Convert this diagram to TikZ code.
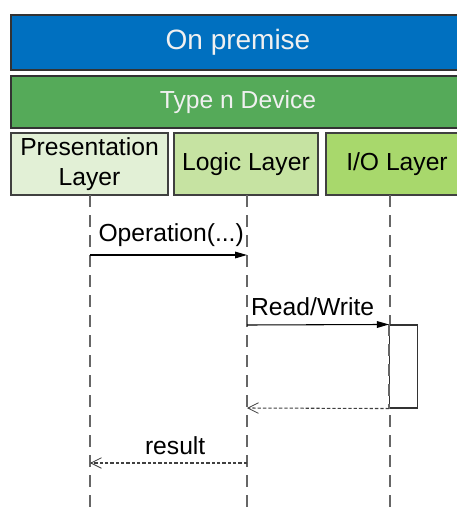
\documentclass[tikz,border=0pt]{standalone}
\usepackage{fontspec}
\setmainfont{Liberation Sans}
\usetikzlibrary{arrows.meta}
\definecolor{premblue}{HTML}{0070C0}
\definecolor{devgreen}{HTML}{55AA59}
\definecolor{presgreen}{HTML}{E2F0D6}
\definecolor{logicgreen}{HTML}{C6E3A2}
\definecolor{iogreen}{HTML}{A8D86C}
\tikzset{
  band/.style={draw=black!80,line width=0.9pt,inner sep=0pt,text=white!94!black,font=\fontsize{18.5}{22}\selectfont},
  layer/.style={draw=black!75,line width=0.8pt,inner sep=0pt,minimum height=46.5pt,align=center,font=\fontsize{18.5}{22.5}\selectfont},
  lifeline/.style={draw=black!60,line width=1.2pt,dash pattern=on 9pt off 6pt},
  call/.style={draw=black,line width=0.8pt,-{Triangle[length=9pt,width=5pt]}},
  reply/.style={draw=black!75,line width=0.8pt,dash pattern=on 2.5pt off 1.5pt,-{Straight Barb[length=8pt,width=8pt,line width=0.6pt]}},
  msg/.style={above=6pt,inner sep=0pt,font=\fontsize{18.5}{22}\selectfont}
}
\begin{document}
\begin{tikzpicture}[x=0.75pt,y=-0.75pt]
\pgfmathsetmacro{\ybot}{515}
\pgfmathsetmacro{\xpres}{90}
\pgfmathsetmacro{\xlogic}{247}
\pgfmathsetmacro{\xio}{390}
\useasboundingbox (0,0) rectangle (457,\ybot);
\clip (0,0) rectangle (457,\ybot);
  \node[band,fill=premblue,minimum width=340.5pt,minimum height=41.25pt,font=\fontsize{21}{24}\selectfont] (premise) at (238,42.5) {On premise};
  \node[band,fill=devgreen,minimum width=340.5pt,minimum height=39pt] (device) at (238,102) {Type n Device};
  \node[layer,fill=presgreen,minimum width=117.75pt] (pres) at (89.5,164) {Presentation\\Layer};
  \node[layer,fill=logicgreen,minimum width=108pt] (logic) at (246,164) {Logic Layer};
  \node[layer,fill=iogreen,minimum width=106.5pt] (io) at (397,164) {I/O Layer};
  \coordinate (presTop) at (\xpres,195);
  \coordinate (presBot) at (\xpres,\ybot);
  \coordinate (logicTop) at (\xlogic,195);
  \coordinate (logicBot) at (\xlogic,\ybot);
  \coordinate (ioTop) at (\xio,195);
  \coordinate (ioBot) at (\xio,\ybot);
  \draw[lifeline] (presTop) -- (presBot);
  \draw[lifeline] (logicTop) -- (logicBot);
  \draw[lifeline] (ioTop) -- (ioBot);
  \node[draw=black!80,line width=0.8pt,fill=white,inner sep=0pt,minimum width=21pt,minimum height=62.25pt] (act) at (403.5,366.5) {};
  \draw[lifeline] (act.north west) -- (act.south west);
  \coordinate (opA) at (\xpres,255);
  \coordinate (opB) at (\xlogic,255);
  \coordinate (rwA) at (\xlogic,325);
  \coordinate (backB) at (\xlogic,408);
  \coordinate (resA) at (\xlogic,463);
  \coordinate (resB) at (\xpres,463);
  \draw[call] (opA) -- node[msg,xshift=2pt] (opLabel) {Operation(...)} (opB);
  \draw[call] (rwA) -- node[msg,xshift=-4pt] (rwLabel) {Read/Write} (act.north west);
  \draw[reply] (act.south west) -- (backB);
  \draw[reply] (resA) -- node[msg,xshift=5pt] (resLabel) {result} (resB);
\end{tikzpicture}
\end{document}
